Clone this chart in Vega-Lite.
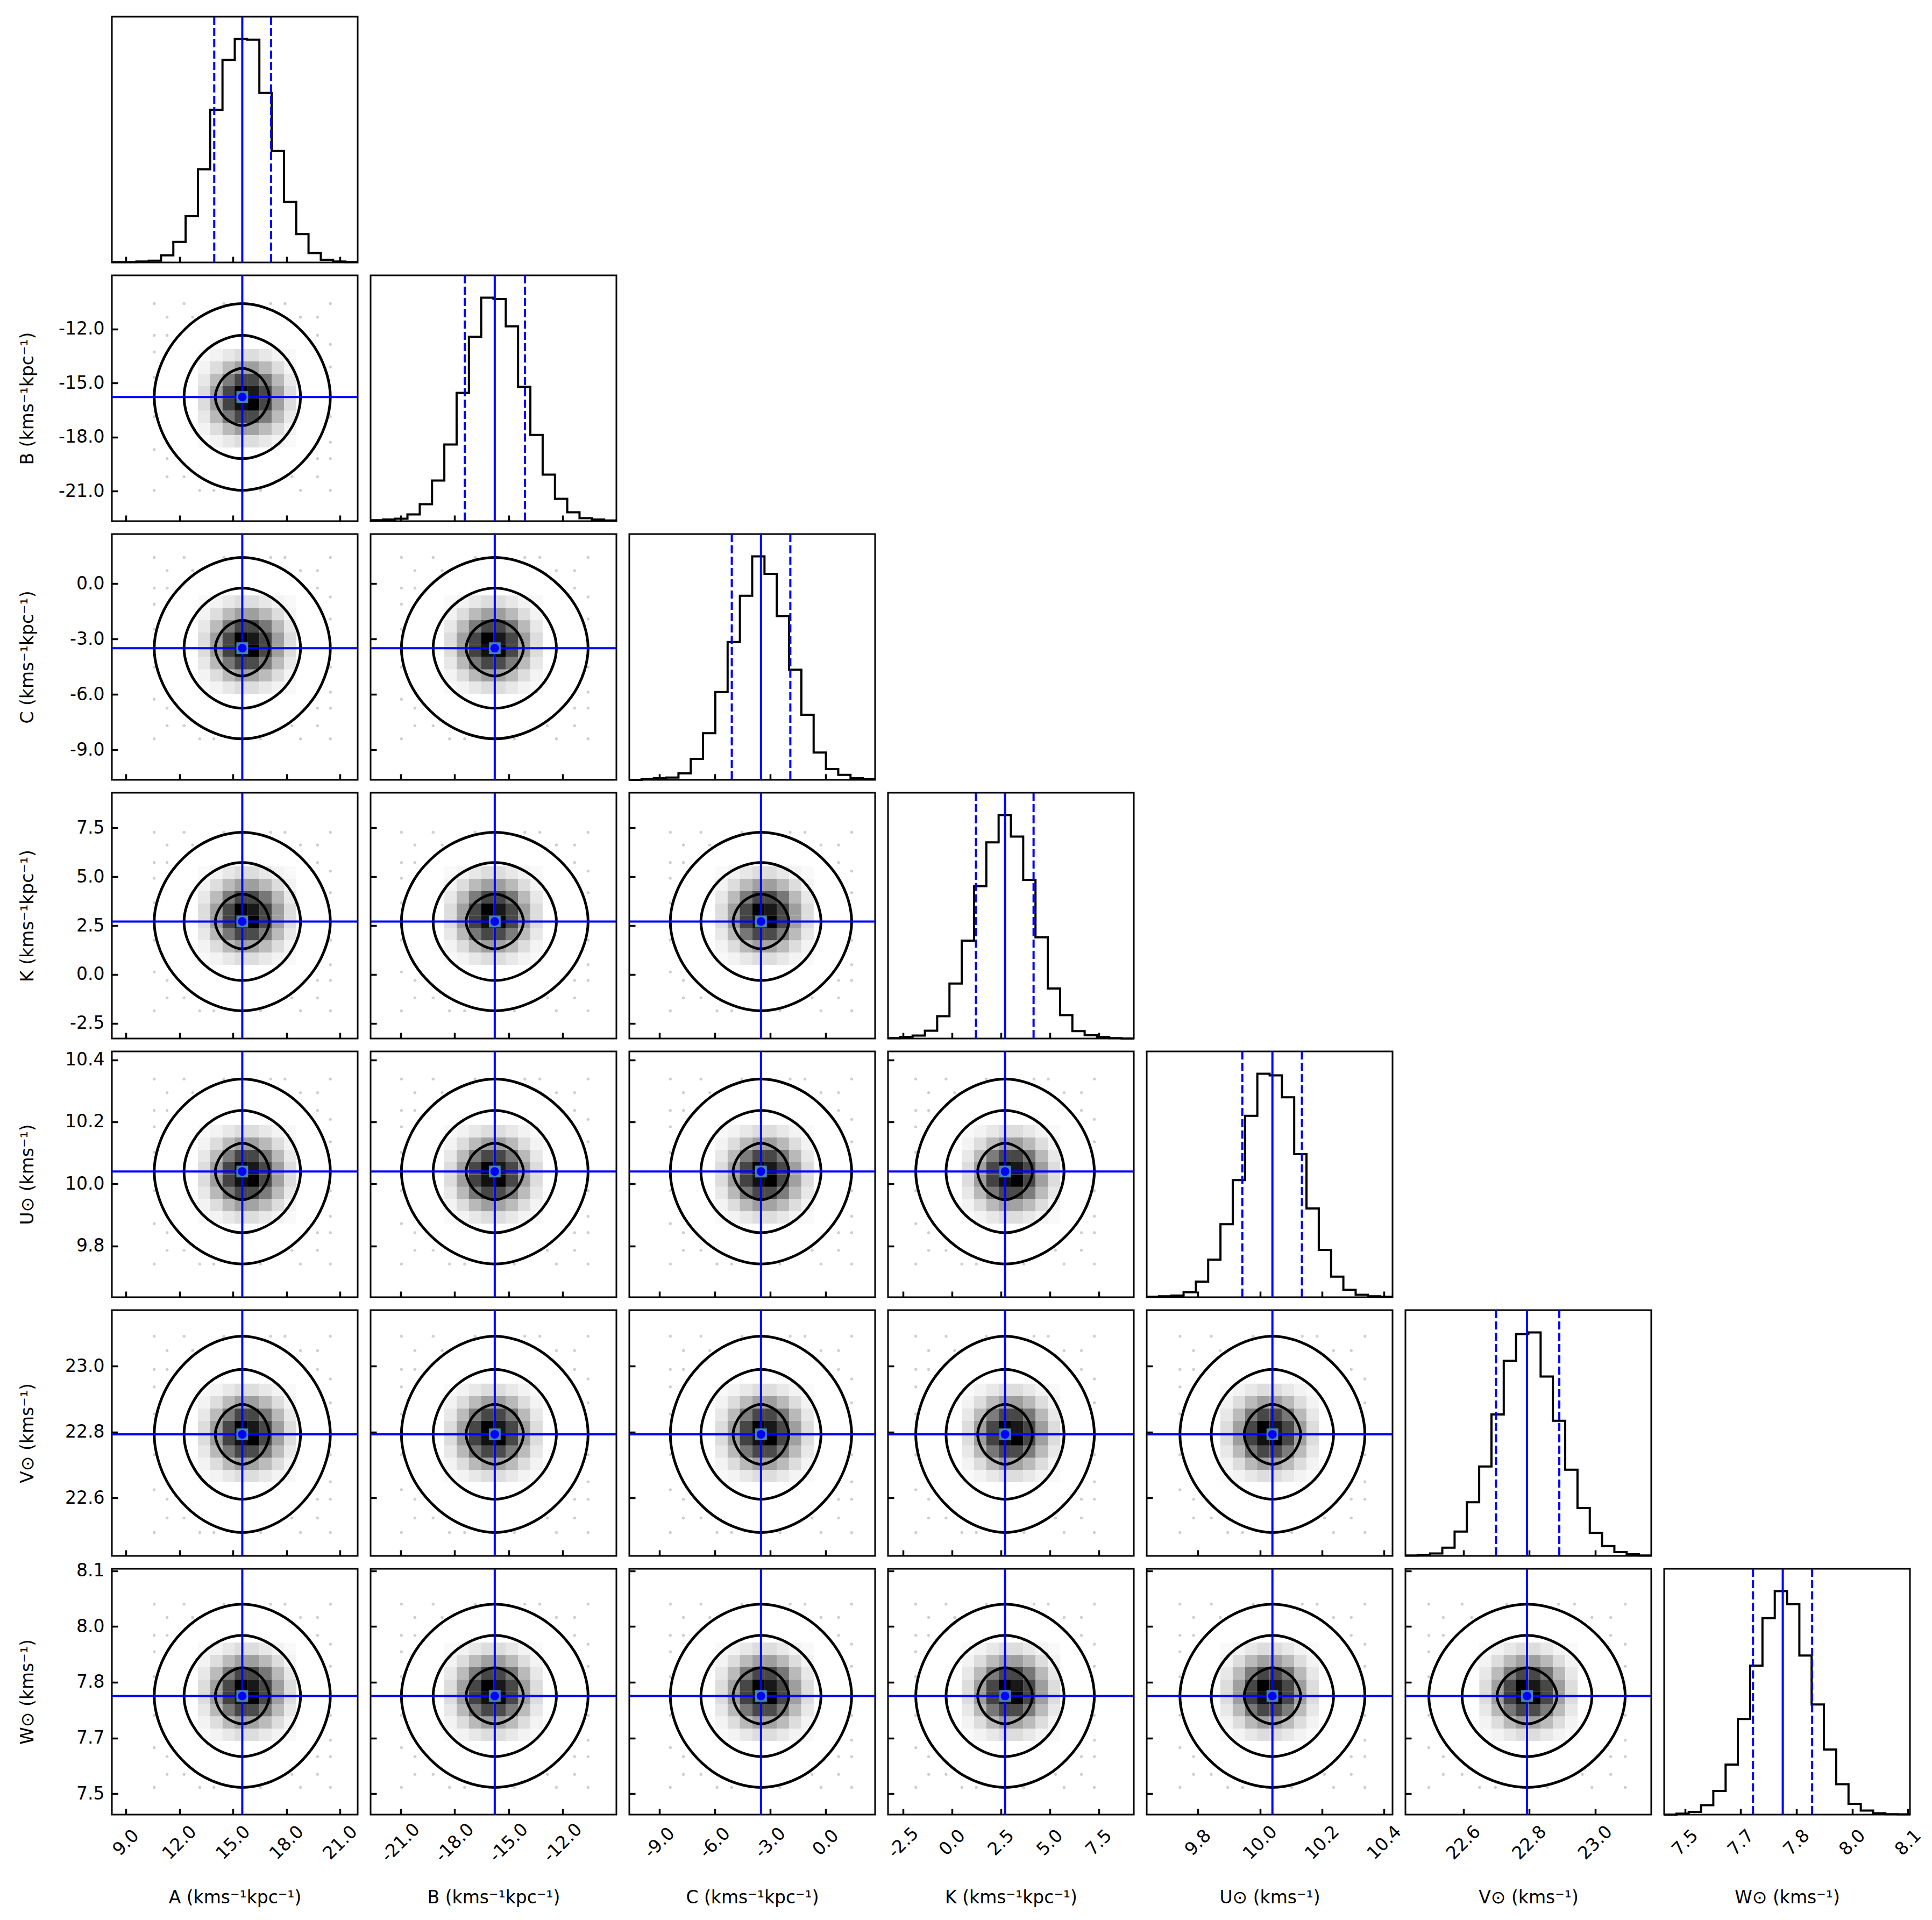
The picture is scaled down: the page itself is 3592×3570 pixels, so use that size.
{
"$schema":"https://vega.github.io/schema/vega-lite/v6.json",
"usermeta":{"embedOptions":{"actions":false}},
"background":"white",
"padding":{"left":33,"top":27,"right":10,"bottom":10},
"autosize":{"type":"pad"},
"bounds":"flush",
"spacing":24,
"columns":7,
"resolve":{"scale":{"x":"independent","y":"independent"}},
"config":{
"view":{"stroke":"black","strokeWidth":3},
"axis":{"domain":false,"grid":false,"offset":-11,"tickSize":11,"tickWidth":3.5,"tickColor":"black","labelFont":"DejaVu Sans","labelFontSize":33,"labelColor":"black","labelFlush":false,"labelOverlap":false,"titleFont":"DejaVu Sans","titleFontSize":33,"titleFontWeight":"normal","titleColor":"black","titleAlign":"center","titleBaseline":"middle"},
"axisBottom":{"labelAngle":-45,"labelAlign":"center","labelBaseline":"middle","labelPadding":52},
"axisLeft":{"labelAlign":"right","labelBaseline":"middle","labelPadding":14,"titleAngle":-90},
"line":{"color":"black","strokeWidth":5},
"rule":{"color":"#0000ff","strokeWidth":4},
"square":{"opacity":1,"size":530,"strokeWidth":0},
"circle":{"opacity":1,"size":260,"color":"#0000ff"}
},
"datasets":{
"med":[{"A":15.52,"B":-15.77,"C":-3.5,"K":2.71,"U":10.04,"V":22.793,"W":7.813}],
"q":[{"A":13.95,"B":-17.43,"C":-5.08,"K":1.22,"U":9.943,"V":22.699,"W":7.733},{"A":17.13,"B":-14.09,"C":-1.91,"K":4.17,"U":10.135,"V":22.891,"W":7.892}],
"hist":[
{"eA":8.22,"eB":-22.66,"eC":-10.63,"eK":-3.28,"eU":9.635,"eV":22.424,"eW":7.494,"nA":2,"nB":4,"nC":0,"nK":2,"nU":2,"nV":2,"nW":0},
{"eA":8.908,"eB":-21.978,"eC":-9.965,"eK":-2.651,"eU":9.6746,"eV":22.4613,"eW":7.5271,"nA":2,"nB":7,"nC":3,"nK":7,"nU":4,"nV":4,"nW":4},
{"eA":9.596,"eB":-21.296,"eC":-9.299,"eK":-2.022,"eU":9.7142,"eV":22.4986,"eW":7.5601,"nA":4,"nB":11,"nC":7,"nK":13,"nU":7,"nV":11,"nW":12},
{"eA":10.284,"eB":-20.614,"eC":-8.634,"eK":-1.393,"eU":9.7538,"eV":22.5359,"eW":7.5932,"nA":8,"nB":30,"nC":10,"nK":35,"nU":22,"nV":37,"nW":42},
{"eA":10.972,"eB":-19.932,"eC":-7.968,"eK":-0.764,"eU":9.7934,"eV":22.5732,"eW":7.6262,"nA":32,"nB":76,"nC":29,"nK":100,"nU":70,"nV":109,"nW":106},
{"eA":11.66,"eB":-19.25,"eC":-7.303,"eK":-0.135,"eU":9.833,"eV":22.6105,"eW":7.6593,"nA":92,"nB":182,"nC":94,"nK":246,"nU":168,"nV":240,"nW":224},
{"eA":12.348,"eB":-18.568,"eC":-6.637,"eK":0.494,"eU":9.8726,"eV":22.6478,"eW":7.6923,"nA":207,"nB":343,"nC":209,"nK":438,"nU":327,"nV":400,"nW":428},
{"eA":13.036,"eB":-17.886,"eC":-5.972,"eK":1.123,"eU":9.9122,"eV":22.6851,"eW":7.7254,"nA":417,"nB":574,"nC":393,"nK":682,"nU":524,"nV":633,"nW":667},
{"eA":13.724,"eB":-17.204,"eC":-5.306,"eK":1.752,"eU":9.9518,"eV":22.7224,"eW":7.7584,"nA":683,"nB":825,"nC":617,"nK":878,"nU":812,"nV":873,"nW":879},
{"eA":14.412,"eB":-16.522,"eC":-4.641,"eK":2.381,"eU":9.9914,"eV":22.7597,"eW":7.7915,"nA":906,"nB":1000,"nC":824,"nK":1000,"nU":1000,"nV":993,"nW":1000},
{"eA":15.1,"eB":-15.84,"eC":-3.975,"eK":3.01,"eU":10.031,"eV":22.797,"eW":7.8245,"nA":1000,"nB":994,"nC":1000,"nK":904,"nU":993,"nV":1000,"nW":942},
{"eA":15.788,"eB":-15.158,"eC":-3.31,"eK":3.639,"eU":10.0706,"eV":22.8343,"eW":7.8576,"nA":997,"nB":872,"nC":922,"nK":710,"nU":895,"nV":803,"nW":712},
{"eA":16.476,"eB":-14.476,"eC":-2.644,"eK":4.268,"eU":10.1102,"eV":22.8716,"eW":7.8906,"nA":759,"nB":601,"nC":733,"nK":453,"nU":640,"nV":605,"nW":493},
{"eA":17.164,"eB":-13.794,"eC":-1.979,"eK":4.897,"eU":10.1498,"eV":22.9089,"eW":7.9237,"nA":499,"nB":386,"nC":493,"nK":224,"nU":397,"nV":386,"nW":291},
{"eA":17.852,"eB":-13.112,"eC":-1.313,"eK":5.526,"eU":10.1894,"eV":22.9462,"eW":7.9567,"nA":271,"nB":208,"nC":291,"nK":105,"nU":212,"nV":214,"nW":136},
{"eA":18.54,"eB":-12.43,"eC":-0.648,"eK":6.155,"eU":10.229,"eV":22.9835,"eW":7.9898,"nA":127,"nB":100,"nC":122,"nK":33,"nU":92,"nV":103,"nW":48},
{"eA":19.228,"eB":-11.748,"eC":0.018,"eK":6.784,"eU":10.2686,"eV":23.0208,"eW":8.0228,"nA":42,"nB":40,"nC":48,"nK":15,"nU":33,"nV":44,"nW":18},
{"eA":19.916,"eB":-11.066,"eC":0.684,"eK":7.413,"eU":10.3082,"eV":23.0581,"eW":8.0559,"nA":12,"nB":13,"nC":22,"nK":7,"nU":11,"nV":17,"nW":6},
{"eA":20.604,"eB":-10.384,"eC":1.349,"eK":8.042,"eU":10.3478,"eV":23.0954,"eW":8.0889,"nA":4,"nB":7,"nC":7,"nK":2,"nU":4,"nV":7,"nW":2},
{"eA":21.292,"eB":-9.702,"eC":2.015,"eK":8.671,"eU":10.3874,"eV":23.1327,"eW":8.122,"nA":2,"nB":3,"nC":3,"nK":0,"nU":2,"nV":2,"nW":1},
{"eA":21.98,"eB":-9.02,"eC":2.68,"eK":9.3,"eU":10.427,"eV":23.17,"eW":8.155,"nA":2,"nB":3,"nC":3,"nK":0,"nU":2,"nV":2,"nW":1}
],
"sc":[{
"xA":[20.45,20.45,19.73,18.78,17.11,14.49,12.74,11.31,10.59,10.59,11.31,12.26,13.93,16.55,18.3,19.73,20.45,19.73,11.31,11.31,19.73,20.45,10.59,17.91,13.14,10.59,18.78,12.26,20.45,10.59,20.45,10.59,10.59,20.45],
"xB":[-10.59,-10.59,-11.34,-12.35,-14.1,-16.86,-18.69,-20.2,-20.95,-20.95,-20.2,-19.19,-17.44,-14.68,-12.85,-11.34,-10.59,-11.34,-20.2,-20.2,-11.34,-10.59,-20.95,-13.27,-18.28,-20.95,-12.35,-19.19,-10.59,-20.95,-10.59,-20.95,-20.95,-10.59],
"xC":[1.41,1.41,0.7,-0.25,-1.92,-4.53,-6.27,-7.7,-8.41,-8.41,-7.7,-6.75,-5.09,-2.47,-0.73,0.7,1.41,0.7,-7.7,-7.7,0.7,1.41,-8.41,-1.12,-5.88,-8.41,-0.25,-6.75,1.41,-8.41,1.41,-8.41,-8.41,1.41],
"xK":[7.28,7.28,6.62,5.73,4.19,1.75,0.13,-1.2,-1.86,-1.86,-1.2,-0.31,1.24,3.67,5.29,6.62,7.28,6.62,-1.2,-1.2,6.62,7.28,-1.86,4.92,0.5,-1.86,5.73,-0.31,7.28,-1.86,7.28,-1.86,-1.86,7.28],
"xU":[10.338,10.338,10.294,10.237,10.136,9.978,9.872,9.786,9.742,9.742,9.786,9.843,9.944,10.102,10.208,10.294,10.338,10.294,9.786,9.786,10.294,10.338,9.742,10.184,9.896,9.742,10.237,9.843,10.338,9.742,10.338,9.742,9.742,10.338],
"xV":[23.091,23.091,23.047,22.99,22.889,22.731,22.625,22.539,22.495,22.495,22.539,22.596,22.697,22.855,22.961,23.047,23.091,23.047,22.539,22.539,23.047,23.091,22.495,22.937,22.649,22.495,22.99,22.596,23.091,22.495,23.091,22.495,22.495,23.091],
"yB":[-14.1,-18.28,-12.35,-11.34,-10.59,-10.59,-11.34,-12.35,-13.27,-16.86,-19.19,-20.2,-20.95,-20.95,-20.2,-19.19,-16.86,-11.34,-11.34,-20.2,-20.2,-12.85,-18.69,-10.59,-20.95,-14.68,-20.95,-10.59,-19.19,-12.35,-10.59,-10.59,-20.95,-20.95],
"yC":[-1.92,-5.88,-0.25,0.7,1.41,1.41,0.7,-0.25,-1.12,-4.53,-6.75,-7.7,-8.41,-8.41,-7.7,-6.75,-4.53,0.7,0.7,-7.7,-7.7,-0.73,-6.27,1.41,-8.41,-2.47,-8.41,1.41,-6.75,-0.25,1.41,1.41,-8.41,-8.41],
"yK":[4.19,0.5,5.73,6.62,7.28,7.28,6.62,5.73,4.92,1.75,-0.31,-1.2,-1.86,-1.86,-1.2,-0.31,1.75,6.62,6.62,-1.2,-1.2,5.29,0.13,7.28,-1.86,3.67,-1.86,7.28,-0.31,5.73,7.28,7.28,-1.86,-1.86],
"yU":[10.136,9.896,10.237,10.294,10.338,10.338,10.294,10.237,10.184,9.978,9.843,9.786,9.742,9.742,9.786,9.843,9.978,10.294,10.294,9.786,9.786,10.208,9.872,10.338,9.742,10.102,9.742,10.338,9.843,10.237,10.338,10.338,9.742,9.742],
"yV":[22.889,22.649,22.99,23.047,23.091,23.091,23.047,22.99,22.937,22.731,22.596,22.539,22.495,22.495,22.539,22.596,22.731,23.047,23.047,22.539,22.539,22.961,22.625,23.091,22.495,22.855,22.495,23.091,22.596,22.99,23.091,23.091,22.495,22.495],
"yW":[7.893,7.694,7.976,8.024,8.06,8.06,8.024,7.976,7.932,7.761,7.65,7.602,7.567,7.567,7.602,7.65,7.761,8.024,8.024,7.602,7.602,7.952,7.674,8.06,7.567,7.865,7.567,8.06,7.65,7.976,8.06,8.06,7.567,7.567]}],
"ct":[
{"c":3,"o":[0,1,2,3,4,5,6,7,8,9,10,11],
"xA":[20.45,19.73,17.91,15.52,13.14,11.31,10.59,11.31,13.14,15.52,17.91,19.73],
"xB":[-10.59,-11.34,-13.27,-15.77,-18.28,-20.2,-20.95,-20.2,-18.28,-15.77,-13.27,-11.34],
"xC":[1.41,0.7,-1.12,-3.5,-5.88,-7.7,-8.41,-7.7,-5.88,-3.5,-1.12,0.7],
"xK":[7.28,6.62,4.92,2.71,0.5,-1.2,-1.86,-1.2,0.5,2.71,4.92,6.62],
"xU":[10.338,10.294,10.184,10.04,9.896,9.786,9.742,9.786,9.896,10.04,10.184,10.294],
"xV":[23.091,23.047,22.937,22.793,22.649,22.539,22.495,22.539,22.649,22.793,22.937,23.047],
"yB":[-15.77,-13.27,-11.34,-10.59,-11.34,-13.27,-15.77,-18.28,-20.2,-20.95,-20.2,-18.28],
"yC":[-3.5,-1.12,0.7,1.41,0.7,-1.12,-3.5,-5.88,-7.7,-8.41,-7.7,-5.88],
"yK":[2.71,4.92,6.62,7.28,6.62,4.92,2.71,0.5,-1.2,-1.86,-1.2,0.5],
"yU":[10.04,10.184,10.294,10.338,10.294,10.184,10.04,9.896,9.786,9.742,9.786,9.896],
"yV":[22.793,22.937,23.047,23.091,23.047,22.937,22.793,22.649,22.539,22.495,22.539,22.649],
"yW":[7.813,7.932,8.024,8.06,8.024,7.932,7.813,7.694,7.602,7.567,7.602,7.694]},
{"c":2,"o":[0,1,2,3,4,5,6,7,8,9,10,11],
"xA":[18.78,18.3,17.11,15.52,13.93,12.74,12.26,12.74,13.93,15.52,17.11,18.3],
"xB":[-12.35,-12.85,-14.1,-15.77,-17.44,-18.69,-19.19,-18.69,-17.44,-15.77,-14.1,-12.85],
"xC":[-0.25,-0.73,-1.92,-3.5,-5.09,-6.27,-6.75,-6.27,-5.09,-3.5,-1.92,-0.73],
"xK":[5.73,5.29,4.19,2.71,1.24,0.13,-0.31,0.13,1.24,2.71,4.19,5.29],
"xU":[10.237,10.208,10.136,10.04,9.944,9.872,9.843,9.872,9.944,10.04,10.136,10.208],
"xV":[22.99,22.961,22.889,22.793,22.697,22.625,22.596,22.625,22.697,22.793,22.889,22.961],
"yB":[-15.77,-14.1,-12.85,-12.35,-12.85,-14.1,-15.77,-17.44,-18.69,-19.19,-18.69,-17.44],
"yC":[-3.5,-1.92,-0.73,-0.25,-0.73,-1.92,-3.5,-5.09,-6.27,-6.75,-6.27,-5.09],
"yK":[2.71,4.19,5.29,5.73,5.29,4.19,2.71,1.24,0.13,-0.31,0.13,1.24],
"yU":[10.04,10.136,10.208,10.237,10.208,10.136,10.04,9.944,9.872,9.843,9.872,9.944],
"yV":[22.793,22.889,22.961,22.99,22.961,22.889,22.793,22.697,22.625,22.596,22.625,22.697],
"yW":[7.813,7.893,7.952,7.976,7.952,7.893,7.813,7.734,7.674,7.65,7.674,7.734]},
{"c":1,"o":[0,1,2,3,4,5,6,7],
"xA":[17.03,16.55,15.52,14.49,14.01,14.49,15.52,16.55],
"xB":[-14.18,-14.68,-15.77,-16.86,-17.36,-16.86,-15.77,-14.68],
"xC":[-1.99,-2.47,-3.5,-4.53,-5.01,-4.53,-3.5,-2.47],
"xK":[4.11,3.67,2.71,1.75,1.31,1.75,2.71,3.67],
"xU":[10.131,10.102,10.04,9.978,9.949,9.978,10.04,10.102],
"xV":[22.884,22.855,22.793,22.731,22.702,22.731,22.793,22.855],
"yB":[-15.77,-14.68,-14.18,-14.68,-15.77,-16.86,-17.36,-16.86],
"yC":[-3.5,-2.47,-1.99,-2.47,-3.5,-4.53,-5.01,-4.53],
"yK":[2.71,3.67,4.11,3.67,2.71,1.75,1.31,1.75],
"yU":[10.04,10.102,10.131,10.102,10.04,9.978,9.949,9.978],
"yV":[22.793,22.855,22.884,22.855,22.793,22.731,22.702,22.731],
"yW":[7.813,7.865,7.889,7.865,7.813,7.761,7.738,7.761]}
],
"hm":[
{"yB":-18.23,"yC":-5.64,"yK":0.81,"yU":9.892,"yV":22.667,"yW":7.709,"v":[0.02,0.04,0.08,0.12,0.12,0.08,0.04,0.02],"xA":[13.38,14.07,14.76,15.44,16.13,16.82,17.51,18.2],"xB":[-18.23,-17.54,-16.86,-16.18,-15.5,-14.82,-14.14,-13.45],"xC":[-5.64,-4.97,-4.31,-3.64,-2.98,-2.31,-1.65,-0.98],"xK":[0.81,1.44,2.07,2.7,3.33,3.96,4.59,5.22],"xU":[9.892,9.932,9.972,10.011,10.051,10.091,10.13,10.17],"xV":[22.667,22.704,22.741,22.778,22.816,22.853,22.89,22.928]},
{"yB":-17.54,"yC":-4.97,"yK":1.44,"yU":9.932,"yV":22.704,"yW":7.742,"v":[0.04,0.12,0.25,0.35,0.33,0.24,0.12,0.04],"xA":[13.38,14.07,14.76,15.44,16.13,16.82,17.51,18.2],"xB":[-18.23,-17.54,-16.86,-16.18,-15.5,-14.82,-14.14,-13.45],"xC":[-5.64,-4.97,-4.31,-3.64,-2.98,-2.31,-1.65,-0.98],"xK":[0.81,1.44,2.07,2.7,3.33,3.96,4.59,5.22],"xU":[9.892,9.932,9.972,10.011,10.051,10.091,10.13,10.17],"xV":[22.667,22.704,22.741,22.778,22.816,22.853,22.89,22.928]},
{"yB":-16.86,"yC":-4.31,"yK":2.07,"yU":9.972,"yV":22.741,"yW":7.775,"v":[0.08,0.25,0.5,0.7,0.68,0.48,0.24,0.08],"xA":[13.38,14.07,14.76,15.44,16.13,16.82,17.51,18.2],"xB":[-18.23,-17.54,-16.86,-16.18,-15.5,-14.82,-14.14,-13.45],"xC":[-5.64,-4.97,-4.31,-3.64,-2.98,-2.31,-1.65,-0.98],"xK":[0.81,1.44,2.07,2.7,3.33,3.96,4.59,5.22],"xU":[9.892,9.932,9.972,10.011,10.051,10.091,10.13,10.17],"xV":[22.667,22.704,22.741,22.778,22.816,22.853,22.89,22.928]},
{"yB":-16.18,"yC":-3.64,"yK":2.7,"yU":10.011,"yV":22.778,"yW":7.808,"v":[0.12,0.35,0.72,0.95,1,0.7,0.34,0.12],"xA":[13.38,14.07,14.76,15.44,16.13,16.82,17.51,18.2],"xB":[-18.23,-17.54,-16.86,-16.18,-15.5,-14.82,-14.14,-13.45],"xC":[-5.64,-4.97,-4.31,-3.64,-2.98,-2.31,-1.65,-0.98],"xK":[0.81,1.44,2.07,2.7,3.33,3.96,4.59,5.22],"xU":[9.892,9.932,9.972,10.011,10.051,10.091,10.13,10.17],"xV":[22.667,22.704,22.741,22.778,22.816,22.853,22.89,22.928]},
{"yB":-15.5,"yC":-2.98,"yK":3.33,"yU":10.051,"yV":22.816,"yW":7.841,"v":[0.12,0.34,0.7,1,0.92,0.7,0.35,0.12],"xA":[13.38,14.07,14.76,15.44,16.13,16.82,17.51,18.2],"xB":[-18.23,-17.54,-16.86,-16.18,-15.5,-14.82,-14.14,-13.45],"xC":[-5.64,-4.97,-4.31,-3.64,-2.98,-2.31,-1.65,-0.98],"xK":[0.81,1.44,2.07,2.7,3.33,3.96,4.59,5.22],"xU":[9.892,9.932,9.972,10.011,10.051,10.091,10.13,10.17],"xV":[22.667,22.704,22.741,22.778,22.816,22.853,22.89,22.928]},
{"yB":-14.82,"yC":-2.31,"yK":3.96,"yU":10.091,"yV":22.853,"yW":7.874,"v":[0.08,0.24,0.48,0.7,0.7,0.5,0.25,0.08],"xA":[13.38,14.07,14.76,15.44,16.13,16.82,17.51,18.2],"xB":[-18.23,-17.54,-16.86,-16.18,-15.5,-14.82,-14.14,-13.45],"xC":[-5.64,-4.97,-4.31,-3.64,-2.98,-2.31,-1.65,-0.98],"xK":[0.81,1.44,2.07,2.7,3.33,3.96,4.59,5.22],"xU":[9.892,9.932,9.972,10.011,10.051,10.091,10.13,10.17],"xV":[22.667,22.704,22.741,22.778,22.816,22.853,22.89,22.928]},
{"yB":-14.14,"yC":-1.65,"yK":4.59,"yU":10.13,"yV":22.89,"yW":7.907,"v":[0.04,0.12,0.24,0.34,0.35,0.25,0.12,0.04],"xA":[13.38,14.07,14.76,15.44,16.13,16.82,17.51,18.2],"xB":[-18.23,-17.54,-16.86,-16.18,-15.5,-14.82,-14.14,-13.45],"xC":[-5.64,-4.97,-4.31,-3.64,-2.98,-2.31,-1.65,-0.98],"xK":[0.81,1.44,2.07,2.7,3.33,3.96,4.59,5.22],"xU":[9.892,9.932,9.972,10.011,10.051,10.091,10.13,10.17],"xV":[22.667,22.704,22.741,22.778,22.816,22.853,22.89,22.928]},
{"yB":-13.45,"yC":-0.98,"yK":5.22,"yU":10.17,"yV":22.928,"yW":7.94,"v":[0.02,0.04,0.08,0.12,0.12,0.08,0.04,0.02],"xA":[13.38,14.07,14.76,15.44,16.13,16.82,17.51,18.2],"xB":[-18.23,-17.54,-16.86,-16.18,-15.5,-14.82,-14.14,-13.45],"xC":[-5.64,-4.97,-4.31,-3.64,-2.98,-2.31,-1.65,-0.98],"xK":[0.81,1.44,2.07,2.7,3.33,3.96,4.59,5.22],"xU":[9.892,9.932,9.972,10.011,10.051,10.091,10.13,10.17],"xV":[22.667,22.704,22.741,22.778,22.816,22.853,22.89,22.928]}
]
},
"concat":[
{"width":457,"height":457,"layer":[
{"data":{"name":"hist"},"mark":{"type":"line","interpolate":"step-after","strokeWidth":4},"encoding":{"x":{"field":"eA","type":"quantitative","scale":{"domain":[8.22,21.98],"nice":false},"axis":{"values":[9,12,15,18,21],"labels":false,"title":null}},"y":{"field":"nA","type":"quantitative","scale":{"domain":[0,1100],"nice":false},"axis":null}}},
{"data":{"name":"q"},"mark":{"type":"rule","strokeDash":[15,6]},"encoding":{"x":{"field":"A","type":"quantitative"}}},
{"data":{"name":"med"},"mark":"rule","encoding":{"x":{"field":"A","type":"quantitative"}}}]},
{"width":457,"height":457,"data":{"values":[]},"mark":"point","encoding":{},"view":{"stroke":null}},
{"width":457,"height":457,"data":{"values":[]},"mark":"point","encoding":{},"view":{"stroke":null}},
{"width":457,"height":457,"data":{"values":[]},"mark":"point","encoding":{},"view":{"stroke":null}},
{"width":457,"height":457,"data":{"values":[]},"mark":"point","encoding":{},"view":{"stroke":null}},
{"width":457,"height":457,"data":{"values":[]},"mark":"point","encoding":{},"view":{"stroke":null}},
{"width":457,"height":457,"data":{"values":[]},"mark":"point","encoding":{},"view":{"stroke":null}},

{"width":457,"height":457,"layer":[
{"data":{"name":"hm"},"transform":[{"flatten":["xA","v"]}],"mark":"square","encoding":{"x":{"field":"xA","type":"quantitative","scale":{"domain":[8.22,21.98],"nice":false},"axis":{"values":[9,12,15,18,21],"labels":false,"title":null}},"y":{"field":"yB","type":"quantitative","scale":{"domain":[-22.66,-9.02],"nice":false},"axis":{"values":[-21,-18,-15,-12],"format":".1f","labelExpr":"replace(datum.label,'−','-')","title":"B (kms⁻¹kpc⁻¹)","titleX":-168,"titleY":228.5}},"color":{"field":"v","type":"quantitative","scale":{"domain":[0,1],"range":["#ffffff","#000000"]},"legend":null}}},
{"data":{"name":"sc"},"transform":[{"flatten":["xA","yB"]}],"mark":{"type":"circle","size":30,"color":"#888888","opacity":0.4},"encoding":{"x":{"field":"xA","type":"quantitative"},"y":{"field":"yB","type":"quantitative"}}},
{"data":{"name":"ct"},"transform":[{"flatten":["o","xA","yB"]}],"mark":{"type":"line","interpolate":"cardinal-closed"},"encoding":{"x":{"field":"xA","type":"quantitative"},"y":{"field":"yB","type":"quantitative"},"detail":{"field":"c","type":"nominal"},"order":{"field":"o","type":"quantitative"}}},
{"data":{"name":"med"},"mark":"rule","encoding":{"x":{"field":"A","type":"quantitative"}}},
{"data":{"name":"med"},"mark":"rule","encoding":{"y":{"field":"B","type":"quantitative"}}},
{"data":{"name":"med"},"mark":{"type":"square","size":480,"color":"#4682b4"},"encoding":{"x":{"field":"A","type":"quantitative"},"y":{"field":"B","type":"quantitative"}}},
{"data":{"name":"med"},"mark":"circle","encoding":{"x":{"field":"A","type":"quantitative"},"y":{"field":"B","type":"quantitative"}}}]},
{"width":457,"height":457,"layer":[
{"data":{"name":"hist"},"mark":{"type":"line","interpolate":"step-after","strokeWidth":4},"encoding":{"x":{"field":"eB","type":"quantitative","scale":{"domain":[-22.66,-9.02],"nice":false},"axis":{"values":[-21,-18,-15,-12],"labels":false,"title":null}},"y":{"field":"nB","type":"quantitative","scale":{"domain":[0,1100],"nice":false},"axis":null}}},
{"data":{"name":"q"},"mark":{"type":"rule","strokeDash":[15,6]},"encoding":{"x":{"field":"B","type":"quantitative"}}},
{"data":{"name":"med"},"mark":"rule","encoding":{"x":{"field":"B","type":"quantitative"}}}]},
{"width":457,"height":457,"data":{"values":[]},"mark":"point","encoding":{},"view":{"stroke":null}},
{"width":457,"height":457,"data":{"values":[]},"mark":"point","encoding":{},"view":{"stroke":null}},
{"width":457,"height":457,"data":{"values":[]},"mark":"point","encoding":{},"view":{"stroke":null}},
{"width":457,"height":457,"data":{"values":[]},"mark":"point","encoding":{},"view":{"stroke":null}},
{"width":457,"height":457,"data":{"values":[]},"mark":"point","encoding":{},"view":{"stroke":null}},

{"width":457,"height":457,"layer":[
{"data":{"name":"hm"},"transform":[{"flatten":["xA","v"]}],"mark":"square","encoding":{"x":{"field":"xA","type":"quantitative","scale":{"domain":[8.22,21.98],"nice":false},"axis":{"values":[9,12,15,18,21],"labels":false,"title":null}},"y":{"field":"yC","type":"quantitative","scale":{"domain":[-10.63,2.68],"nice":false},"axis":{"values":[-9,-6,-3,0],"format":".1f","labelExpr":"replace(datum.label,'−','-')","title":"C (kms⁻¹kpc⁻¹)","titleX":-168,"titleY":228.5}},"color":{"field":"v","type":"quantitative","scale":{"domain":[0,1],"range":["#ffffff","#000000"]},"legend":null}}},
{"data":{"name":"sc"},"transform":[{"flatten":["xA","yC"]}],"mark":{"type":"circle","size":30,"color":"#888888","opacity":0.4},"encoding":{"x":{"field":"xA","type":"quantitative"},"y":{"field":"yC","type":"quantitative"}}},
{"data":{"name":"ct"},"transform":[{"flatten":["o","xA","yC"]}],"mark":{"type":"line","interpolate":"cardinal-closed"},"encoding":{"x":{"field":"xA","type":"quantitative"},"y":{"field":"yC","type":"quantitative"},"detail":{"field":"c","type":"nominal"},"order":{"field":"o","type":"quantitative"}}},
{"data":{"name":"med"},"mark":"rule","encoding":{"x":{"field":"A","type":"quantitative"}}},
{"data":{"name":"med"},"mark":"rule","encoding":{"y":{"field":"C","type":"quantitative"}}},
{"data":{"name":"med"},"mark":{"type":"square","size":480,"color":"#4682b4"},"encoding":{"x":{"field":"A","type":"quantitative"},"y":{"field":"C","type":"quantitative"}}},
{"data":{"name":"med"},"mark":"circle","encoding":{"x":{"field":"A","type":"quantitative"},"y":{"field":"C","type":"quantitative"}}}]},
{"width":457,"height":457,"layer":[
{"data":{"name":"hm"},"transform":[{"flatten":["xB","v"]}],"mark":"square","encoding":{"x":{"field":"xB","type":"quantitative","scale":{"domain":[-22.66,-9.02],"nice":false},"axis":{"values":[-21,-18,-15,-12],"labels":false,"title":null}},"y":{"field":"yC","type":"quantitative","scale":{"domain":[-10.63,2.68],"nice":false},"axis":{"values":[-9,-6,-3,0],"labels":false,"title":null}},"color":{"field":"v","type":"quantitative","scale":{"domain":[0,1],"range":["#ffffff","#000000"]},"legend":null}}},
{"data":{"name":"sc"},"transform":[{"flatten":["xB","yC"]}],"mark":{"type":"circle","size":30,"color":"#888888","opacity":0.4},"encoding":{"x":{"field":"xB","type":"quantitative"},"y":{"field":"yC","type":"quantitative"}}},
{"data":{"name":"ct"},"transform":[{"flatten":["o","xB","yC"]}],"mark":{"type":"line","interpolate":"cardinal-closed"},"encoding":{"x":{"field":"xB","type":"quantitative"},"y":{"field":"yC","type":"quantitative"},"detail":{"field":"c","type":"nominal"},"order":{"field":"o","type":"quantitative"}}},
{"data":{"name":"med"},"mark":"rule","encoding":{"x":{"field":"B","type":"quantitative"}}},
{"data":{"name":"med"},"mark":"rule","encoding":{"y":{"field":"C","type":"quantitative"}}},
{"data":{"name":"med"},"mark":{"type":"square","size":480,"color":"#4682b4"},"encoding":{"x":{"field":"B","type":"quantitative"},"y":{"field":"C","type":"quantitative"}}},
{"data":{"name":"med"},"mark":"circle","encoding":{"x":{"field":"B","type":"quantitative"},"y":{"field":"C","type":"quantitative"}}}]},
{"width":457,"height":457,"layer":[
{"data":{"name":"hist"},"mark":{"type":"line","interpolate":"step-after","strokeWidth":4},"encoding":{"x":{"field":"eC","type":"quantitative","scale":{"domain":[-10.63,2.68],"nice":false},"axis":{"values":[-9,-6,-3,0],"labels":false,"title":null}},"y":{"field":"nC","type":"quantitative","scale":{"domain":[0,1100],"nice":false},"axis":null}}},
{"data":{"name":"q"},"mark":{"type":"rule","strokeDash":[15,6]},"encoding":{"x":{"field":"C","type":"quantitative"}}},
{"data":{"name":"med"},"mark":"rule","encoding":{"x":{"field":"C","type":"quantitative"}}}]},
{"width":457,"height":457,"data":{"values":[]},"mark":"point","encoding":{},"view":{"stroke":null}},
{"width":457,"height":457,"data":{"values":[]},"mark":"point","encoding":{},"view":{"stroke":null}},
{"width":457,"height":457,"data":{"values":[]},"mark":"point","encoding":{},"view":{"stroke":null}},
{"width":457,"height":457,"data":{"values":[]},"mark":"point","encoding":{},"view":{"stroke":null}},

{"width":457,"height":457,"layer":[
{"data":{"name":"hm"},"transform":[{"flatten":["xA","v"]}],"mark":"square","encoding":{"x":{"field":"xA","type":"quantitative","scale":{"domain":[8.22,21.98],"nice":false},"axis":{"values":[9,12,15,18,21],"labels":false,"title":null}},"y":{"field":"yK","type":"quantitative","scale":{"domain":[-3.28,9.3],"nice":false},"axis":{"values":[-2.5,0,2.5,5,7.5],"format":".1f","labelExpr":"replace(datum.label,'−','-')","title":"K (kms⁻¹kpc⁻¹)","titleX":-168,"titleY":228.5}},"color":{"field":"v","type":"quantitative","scale":{"domain":[0,1],"range":["#ffffff","#000000"]},"legend":null}}},
{"data":{"name":"sc"},"transform":[{"flatten":["xA","yK"]}],"mark":{"type":"circle","size":30,"color":"#888888","opacity":0.4},"encoding":{"x":{"field":"xA","type":"quantitative"},"y":{"field":"yK","type":"quantitative"}}},
{"data":{"name":"ct"},"transform":[{"flatten":["o","xA","yK"]}],"mark":{"type":"line","interpolate":"cardinal-closed"},"encoding":{"x":{"field":"xA","type":"quantitative"},"y":{"field":"yK","type":"quantitative"},"detail":{"field":"c","type":"nominal"},"order":{"field":"o","type":"quantitative"}}},
{"data":{"name":"med"},"mark":"rule","encoding":{"x":{"field":"A","type":"quantitative"}}},
{"data":{"name":"med"},"mark":"rule","encoding":{"y":{"field":"K","type":"quantitative"}}},
{"data":{"name":"med"},"mark":{"type":"square","size":480,"color":"#4682b4"},"encoding":{"x":{"field":"A","type":"quantitative"},"y":{"field":"K","type":"quantitative"}}},
{"data":{"name":"med"},"mark":"circle","encoding":{"x":{"field":"A","type":"quantitative"},"y":{"field":"K","type":"quantitative"}}}]},
{"width":457,"height":457,"layer":[
{"data":{"name":"hm"},"transform":[{"flatten":["xB","v"]}],"mark":"square","encoding":{"x":{"field":"xB","type":"quantitative","scale":{"domain":[-22.66,-9.02],"nice":false},"axis":{"values":[-21,-18,-15,-12],"labels":false,"title":null}},"y":{"field":"yK","type":"quantitative","scale":{"domain":[-3.28,9.3],"nice":false},"axis":{"values":[-2.5,0,2.5,5,7.5],"labels":false,"title":null}},"color":{"field":"v","type":"quantitative","scale":{"domain":[0,1],"range":["#ffffff","#000000"]},"legend":null}}},
{"data":{"name":"sc"},"transform":[{"flatten":["xB","yK"]}],"mark":{"type":"circle","size":30,"color":"#888888","opacity":0.4},"encoding":{"x":{"field":"xB","type":"quantitative"},"y":{"field":"yK","type":"quantitative"}}},
{"data":{"name":"ct"},"transform":[{"flatten":["o","xB","yK"]}],"mark":{"type":"line","interpolate":"cardinal-closed"},"encoding":{"x":{"field":"xB","type":"quantitative"},"y":{"field":"yK","type":"quantitative"},"detail":{"field":"c","type":"nominal"},"order":{"field":"o","type":"quantitative"}}},
{"data":{"name":"med"},"mark":"rule","encoding":{"x":{"field":"B","type":"quantitative"}}},
{"data":{"name":"med"},"mark":"rule","encoding":{"y":{"field":"K","type":"quantitative"}}},
{"data":{"name":"med"},"mark":{"type":"square","size":480,"color":"#4682b4"},"encoding":{"x":{"field":"B","type":"quantitative"},"y":{"field":"K","type":"quantitative"}}},
{"data":{"name":"med"},"mark":"circle","encoding":{"x":{"field":"B","type":"quantitative"},"y":{"field":"K","type":"quantitative"}}}]},
{"width":457,"height":457,"layer":[
{"data":{"name":"hm"},"transform":[{"flatten":["xC","v"]}],"mark":"square","encoding":{"x":{"field":"xC","type":"quantitative","scale":{"domain":[-10.63,2.68],"nice":false},"axis":{"values":[-9,-6,-3,0],"labels":false,"title":null}},"y":{"field":"yK","type":"quantitative","scale":{"domain":[-3.28,9.3],"nice":false},"axis":{"values":[-2.5,0,2.5,5,7.5],"labels":false,"title":null}},"color":{"field":"v","type":"quantitative","scale":{"domain":[0,1],"range":["#ffffff","#000000"]},"legend":null}}},
{"data":{"name":"sc"},"transform":[{"flatten":["xC","yK"]}],"mark":{"type":"circle","size":30,"color":"#888888","opacity":0.4},"encoding":{"x":{"field":"xC","type":"quantitative"},"y":{"field":"yK","type":"quantitative"}}},
{"data":{"name":"ct"},"transform":[{"flatten":["o","xC","yK"]}],"mark":{"type":"line","interpolate":"cardinal-closed"},"encoding":{"x":{"field":"xC","type":"quantitative"},"y":{"field":"yK","type":"quantitative"},"detail":{"field":"c","type":"nominal"},"order":{"field":"o","type":"quantitative"}}},
{"data":{"name":"med"},"mark":"rule","encoding":{"x":{"field":"C","type":"quantitative"}}},
{"data":{"name":"med"},"mark":"rule","encoding":{"y":{"field":"K","type":"quantitative"}}},
{"data":{"name":"med"},"mark":{"type":"square","size":480,"color":"#4682b4"},"encoding":{"x":{"field":"C","type":"quantitative"},"y":{"field":"K","type":"quantitative"}}},
{"data":{"name":"med"},"mark":"circle","encoding":{"x":{"field":"C","type":"quantitative"},"y":{"field":"K","type":"quantitative"}}}]},
{"width":457,"height":457,"layer":[
{"data":{"name":"hist"},"mark":{"type":"line","interpolate":"step-after","strokeWidth":4},"encoding":{"x":{"field":"eK","type":"quantitative","scale":{"domain":[-3.28,9.3],"nice":false},"axis":{"values":[-2.5,0,2.5,5,7.5],"labels":false,"title":null}},"y":{"field":"nK","type":"quantitative","scale":{"domain":[0,1100],"nice":false},"axis":null}}},
{"data":{"name":"q"},"mark":{"type":"rule","strokeDash":[15,6]},"encoding":{"x":{"field":"K","type":"quantitative"}}},
{"data":{"name":"med"},"mark":"rule","encoding":{"x":{"field":"K","type":"quantitative"}}}]},
{"width":457,"height":457,"data":{"values":[]},"mark":"point","encoding":{},"view":{"stroke":null}},
{"width":457,"height":457,"data":{"values":[]},"mark":"point","encoding":{},"view":{"stroke":null}},
{"width":457,"height":457,"data":{"values":[]},"mark":"point","encoding":{},"view":{"stroke":null}},

{"width":457,"height":457,"layer":[
{"data":{"name":"hm"},"transform":[{"flatten":["xA","v"]}],"mark":"square","encoding":{"x":{"field":"xA","type":"quantitative","scale":{"domain":[8.22,21.98],"nice":false},"axis":{"values":[9,12,15,18,21],"labels":false,"title":null}},"y":{"field":"yU","type":"quantitative","scale":{"domain":[9.635,10.427],"nice":false},"axis":{"values":[9.8,10,10.2,10.4],"format":".1f","title":"U⊙ (kms⁻¹)","titleX":-168,"titleY":228.5}},"color":{"field":"v","type":"quantitative","scale":{"domain":[0,1],"range":["#ffffff","#000000"]},"legend":null}}},
{"data":{"name":"sc"},"transform":[{"flatten":["xA","yU"]}],"mark":{"type":"circle","size":30,"color":"#888888","opacity":0.4},"encoding":{"x":{"field":"xA","type":"quantitative"},"y":{"field":"yU","type":"quantitative"}}},
{"data":{"name":"ct"},"transform":[{"flatten":["o","xA","yU"]}],"mark":{"type":"line","interpolate":"cardinal-closed"},"encoding":{"x":{"field":"xA","type":"quantitative"},"y":{"field":"yU","type":"quantitative"},"detail":{"field":"c","type":"nominal"},"order":{"field":"o","type":"quantitative"}}},
{"data":{"name":"med"},"mark":"rule","encoding":{"x":{"field":"A","type":"quantitative"}}},
{"data":{"name":"med"},"mark":"rule","encoding":{"y":{"field":"U","type":"quantitative"}}},
{"data":{"name":"med"},"mark":{"type":"square","size":480,"color":"#4682b4"},"encoding":{"x":{"field":"A","type":"quantitative"},"y":{"field":"U","type":"quantitative"}}},
{"data":{"name":"med"},"mark":"circle","encoding":{"x":{"field":"A","type":"quantitative"},"y":{"field":"U","type":"quantitative"}}}]},
{"width":457,"height":457,"layer":[
{"data":{"name":"hm"},"transform":[{"flatten":["xB","v"]}],"mark":"square","encoding":{"x":{"field":"xB","type":"quantitative","scale":{"domain":[-22.66,-9.02],"nice":false},"axis":{"values":[-21,-18,-15,-12],"labels":false,"title":null}},"y":{"field":"yU","type":"quantitative","scale":{"domain":[9.635,10.427],"nice":false},"axis":{"values":[9.8,10,10.2,10.4],"labels":false,"title":null}},"color":{"field":"v","type":"quantitative","scale":{"domain":[0,1],"range":["#ffffff","#000000"]},"legend":null}}},
{"data":{"name":"sc"},"transform":[{"flatten":["xB","yU"]}],"mark":{"type":"circle","size":30,"color":"#888888","opacity":0.4},"encoding":{"x":{"field":"xB","type":"quantitative"},"y":{"field":"yU","type":"quantitative"}}},
{"data":{"name":"ct"},"transform":[{"flatten":["o","xB","yU"]}],"mark":{"type":"line","interpolate":"cardinal-closed"},"encoding":{"x":{"field":"xB","type":"quantitative"},"y":{"field":"yU","type":"quantitative"},"detail":{"field":"c","type":"nominal"},"order":{"field":"o","type":"quantitative"}}},
{"data":{"name":"med"},"mark":"rule","encoding":{"x":{"field":"B","type":"quantitative"}}},
{"data":{"name":"med"},"mark":"rule","encoding":{"y":{"field":"U","type":"quantitative"}}},
{"data":{"name":"med"},"mark":{"type":"square","size":480,"color":"#4682b4"},"encoding":{"x":{"field":"B","type":"quantitative"},"y":{"field":"U","type":"quantitative"}}},
{"data":{"name":"med"},"mark":"circle","encoding":{"x":{"field":"B","type":"quantitative"},"y":{"field":"U","type":"quantitative"}}}]},
{"width":457,"height":457,"layer":[
{"data":{"name":"hm"},"transform":[{"flatten":["xC","v"]}],"mark":"square","encoding":{"x":{"field":"xC","type":"quantitative","scale":{"domain":[-10.63,2.68],"nice":false},"axis":{"values":[-9,-6,-3,0],"labels":false,"title":null}},"y":{"field":"yU","type":"quantitative","scale":{"domain":[9.635,10.427],"nice":false},"axis":{"values":[9.8,10,10.2,10.4],"labels":false,"title":null}},"color":{"field":"v","type":"quantitative","scale":{"domain":[0,1],"range":["#ffffff","#000000"]},"legend":null}}},
{"data":{"name":"sc"},"transform":[{"flatten":["xC","yU"]}],"mark":{"type":"circle","size":30,"color":"#888888","opacity":0.4},"encoding":{"x":{"field":"xC","type":"quantitative"},"y":{"field":"yU","type":"quantitative"}}},
{"data":{"name":"ct"},"transform":[{"flatten":["o","xC","yU"]}],"mark":{"type":"line","interpolate":"cardinal-closed"},"encoding":{"x":{"field":"xC","type":"quantitative"},"y":{"field":"yU","type":"quantitative"},"detail":{"field":"c","type":"nominal"},"order":{"field":"o","type":"quantitative"}}},
{"data":{"name":"med"},"mark":"rule","encoding":{"x":{"field":"C","type":"quantitative"}}},
{"data":{"name":"med"},"mark":"rule","encoding":{"y":{"field":"U","type":"quantitative"}}},
{"data":{"name":"med"},"mark":{"type":"square","size":480,"color":"#4682b4"},"encoding":{"x":{"field":"C","type":"quantitative"},"y":{"field":"U","type":"quantitative"}}},
{"data":{"name":"med"},"mark":"circle","encoding":{"x":{"field":"C","type":"quantitative"},"y":{"field":"U","type":"quantitative"}}}]},
{"width":457,"height":457,"layer":[
{"data":{"name":"hm"},"transform":[{"flatten":["xK","v"]}],"mark":"square","encoding":{"x":{"field":"xK","type":"quantitative","scale":{"domain":[-3.28,9.3],"nice":false},"axis":{"values":[-2.5,0,2.5,5,7.5],"labels":false,"title":null}},"y":{"field":"yU","type":"quantitative","scale":{"domain":[9.635,10.427],"nice":false},"axis":{"values":[9.8,10,10.2,10.4],"labels":false,"title":null}},"color":{"field":"v","type":"quantitative","scale":{"domain":[0,1],"range":["#ffffff","#000000"]},"legend":null}}},
{"data":{"name":"sc"},"transform":[{"flatten":["xK","yU"]}],"mark":{"type":"circle","size":30,"color":"#888888","opacity":0.4},"encoding":{"x":{"field":"xK","type":"quantitative"},"y":{"field":"yU","type":"quantitative"}}},
{"data":{"name":"ct"},"transform":[{"flatten":["o","xK","yU"]}],"mark":{"type":"line","interpolate":"cardinal-closed"},"encoding":{"x":{"field":"xK","type":"quantitative"},"y":{"field":"yU","type":"quantitative"},"detail":{"field":"c","type":"nominal"},"order":{"field":"o","type":"quantitative"}}},
{"data":{"name":"med"},"mark":"rule","encoding":{"x":{"field":"K","type":"quantitative"}}},
{"data":{"name":"med"},"mark":"rule","encoding":{"y":{"field":"U","type":"quantitative"}}},
{"data":{"name":"med"},"mark":{"type":"square","size":480,"color":"#4682b4"},"encoding":{"x":{"field":"K","type":"quantitative"},"y":{"field":"U","type":"quantitative"}}},
{"data":{"name":"med"},"mark":"circle","encoding":{"x":{"field":"K","type":"quantitative"},"y":{"field":"U","type":"quantitative"}}}]},
{"width":457,"height":457,"layer":[
{"data":{"name":"hist"},"mark":{"type":"line","interpolate":"step-after","strokeWidth":4},"encoding":{"x":{"field":"eU","type":"quantitative","scale":{"domain":[9.635,10.427],"nice":false},"axis":{"values":[9.8,10,10.2,10.4],"labels":false,"title":null}},"y":{"field":"nU","type":"quantitative","scale":{"domain":[0,1100],"nice":false},"axis":null}}},
{"data":{"name":"q"},"mark":{"type":"rule","strokeDash":[15,6]},"encoding":{"x":{"field":"U","type":"quantitative"}}},
{"data":{"name":"med"},"mark":"rule","encoding":{"x":{"field":"U","type":"quantitative"}}}]},
{"width":457,"height":457,"data":{"values":[]},"mark":"point","encoding":{},"view":{"stroke":null}},
{"width":457,"height":457,"data":{"values":[]},"mark":"point","encoding":{},"view":{"stroke":null}},

{"width":457,"height":457,"layer":[
{"data":{"name":"hm"},"transform":[{"flatten":["xA","v"]}],"mark":"square","encoding":{"x":{"field":"xA","type":"quantitative","scale":{"domain":[8.22,21.98],"nice":false},"axis":{"values":[9,12,15,18,21],"labels":false,"title":null}},"y":{"field":"yV","type":"quantitative","scale":{"domain":[22.424,23.17],"nice":false},"axis":{"values":[22.6,22.8,23],"format":".1f","title":"V⊙ (kms⁻¹)","titleX":-168,"titleY":228.5}},"color":{"field":"v","type":"quantitative","scale":{"domain":[0,1],"range":["#ffffff","#000000"]},"legend":null}}},
{"data":{"name":"sc"},"transform":[{"flatten":["xA","yV"]}],"mark":{"type":"circle","size":30,"color":"#888888","opacity":0.4},"encoding":{"x":{"field":"xA","type":"quantitative"},"y":{"field":"yV","type":"quantitative"}}},
{"data":{"name":"ct"},"transform":[{"flatten":["o","xA","yV"]}],"mark":{"type":"line","interpolate":"cardinal-closed"},"encoding":{"x":{"field":"xA","type":"quantitative"},"y":{"field":"yV","type":"quantitative"},"detail":{"field":"c","type":"nominal"},"order":{"field":"o","type":"quantitative"}}},
{"data":{"name":"med"},"mark":"rule","encoding":{"x":{"field":"A","type":"quantitative"}}},
{"data":{"name":"med"},"mark":"rule","encoding":{"y":{"field":"V","type":"quantitative"}}},
{"data":{"name":"med"},"mark":{"type":"square","size":480,"color":"#4682b4"},"encoding":{"x":{"field":"A","type":"quantitative"},"y":{"field":"V","type":"quantitative"}}},
{"data":{"name":"med"},"mark":"circle","encoding":{"x":{"field":"A","type":"quantitative"},"y":{"field":"V","type":"quantitative"}}}]},
{"width":457,"height":457,"layer":[
{"data":{"name":"hm"},"transform":[{"flatten":["xB","v"]}],"mark":"square","encoding":{"x":{"field":"xB","type":"quantitative","scale":{"domain":[-22.66,-9.02],"nice":false},"axis":{"values":[-21,-18,-15,-12],"labels":false,"title":null}},"y":{"field":"yV","type":"quantitative","scale":{"domain":[22.424,23.17],"nice":false},"axis":{"values":[22.6,22.8,23],"labels":false,"title":null}},"color":{"field":"v","type":"quantitative","scale":{"domain":[0,1],"range":["#ffffff","#000000"]},"legend":null}}},
{"data":{"name":"sc"},"transform":[{"flatten":["xB","yV"]}],"mark":{"type":"circle","size":30,"color":"#888888","opacity":0.4},"encoding":{"x":{"field":"xB","type":"quantitative"},"y":{"field":"yV","type":"quantitative"}}},
{"data":{"name":"ct"},"transform":[{"flatten":["o","xB","yV"]}],"mark":{"type":"line","interpolate":"cardinal-closed"},"encoding":{"x":{"field":"xB","type":"quantitative"},"y":{"field":"yV","type":"quantitative"},"detail":{"field":"c","type":"nominal"},"order":{"field":"o","type":"quantitative"}}},
{"data":{"name":"med"},"mark":"rule","encoding":{"x":{"field":"B","type":"quantitative"}}},
{"data":{"name":"med"},"mark":"rule","encoding":{"y":{"field":"V","type":"quantitative"}}},
{"data":{"name":"med"},"mark":{"type":"square","size":480,"color":"#4682b4"},"encoding":{"x":{"field":"B","type":"quantitative"},"y":{"field":"V","type":"quantitative"}}},
{"data":{"name":"med"},"mark":"circle","encoding":{"x":{"field":"B","type":"quantitative"},"y":{"field":"V","type":"quantitative"}}}]},
{"width":457,"height":457,"layer":[
{"data":{"name":"hm"},"transform":[{"flatten":["xC","v"]}],"mark":"square","encoding":{"x":{"field":"xC","type":"quantitative","scale":{"domain":[-10.63,2.68],"nice":false},"axis":{"values":[-9,-6,-3,0],"labels":false,"title":null}},"y":{"field":"yV","type":"quantitative","scale":{"domain":[22.424,23.17],"nice":false},"axis":{"values":[22.6,22.8,23],"labels":false,"title":null}},"color":{"field":"v","type":"quantitative","scale":{"domain":[0,1],"range":["#ffffff","#000000"]},"legend":null}}},
{"data":{"name":"sc"},"transform":[{"flatten":["xC","yV"]}],"mark":{"type":"circle","size":30,"color":"#888888","opacity":0.4},"encoding":{"x":{"field":"xC","type":"quantitative"},"y":{"field":"yV","type":"quantitative"}}},
{"data":{"name":"ct"},"transform":[{"flatten":["o","xC","yV"]}],"mark":{"type":"line","interpolate":"cardinal-closed"},"encoding":{"x":{"field":"xC","type":"quantitative"},"y":{"field":"yV","type":"quantitative"},"detail":{"field":"c","type":"nominal"},"order":{"field":"o","type":"quantitative"}}},
{"data":{"name":"med"},"mark":"rule","encoding":{"x":{"field":"C","type":"quantitative"}}},
{"data":{"name":"med"},"mark":"rule","encoding":{"y":{"field":"V","type":"quantitative"}}},
{"data":{"name":"med"},"mark":{"type":"square","size":480,"color":"#4682b4"},"encoding":{"x":{"field":"C","type":"quantitative"},"y":{"field":"V","type":"quantitative"}}},
{"data":{"name":"med"},"mark":"circle","encoding":{"x":{"field":"C","type":"quantitative"},"y":{"field":"V","type":"quantitative"}}}]},
{"width":457,"height":457,"layer":[
{"data":{"name":"hm"},"transform":[{"flatten":["xK","v"]}],"mark":"square","encoding":{"x":{"field":"xK","type":"quantitative","scale":{"domain":[-3.28,9.3],"nice":false},"axis":{"values":[-2.5,0,2.5,5,7.5],"labels":false,"title":null}},"y":{"field":"yV","type":"quantitative","scale":{"domain":[22.424,23.17],"nice":false},"axis":{"values":[22.6,22.8,23],"labels":false,"title":null}},"color":{"field":"v","type":"quantitative","scale":{"domain":[0,1],"range":["#ffffff","#000000"]},"legend":null}}},
{"data":{"name":"sc"},"transform":[{"flatten":["xK","yV"]}],"mark":{"type":"circle","size":30,"color":"#888888","opacity":0.4},"encoding":{"x":{"field":"xK","type":"quantitative"},"y":{"field":"yV","type":"quantitative"}}},
{"data":{"name":"ct"},"transform":[{"flatten":["o","xK","yV"]}],"mark":{"type":"line","interpolate":"cardinal-closed"},"encoding":{"x":{"field":"xK","type":"quantitative"},"y":{"field":"yV","type":"quantitative"},"detail":{"field":"c","type":"nominal"},"order":{"field":"o","type":"quantitative"}}},
{"data":{"name":"med"},"mark":"rule","encoding":{"x":{"field":"K","type":"quantitative"}}},
{"data":{"name":"med"},"mark":"rule","encoding":{"y":{"field":"V","type":"quantitative"}}},
{"data":{"name":"med"},"mark":{"type":"square","size":480,"color":"#4682b4"},"encoding":{"x":{"field":"K","type":"quantitative"},"y":{"field":"V","type":"quantitative"}}},
{"data":{"name":"med"},"mark":"circle","encoding":{"x":{"field":"K","type":"quantitative"},"y":{"field":"V","type":"quantitative"}}}]},
{"width":457,"height":457,"layer":[
{"data":{"name":"hm"},"transform":[{"flatten":["xU","v"]}],"mark":"square","encoding":{"x":{"field":"xU","type":"quantitative","scale":{"domain":[9.635,10.427],"nice":false},"axis":{"values":[9.8,10,10.2,10.4],"labels":false,"title":null}},"y":{"field":"yV","type":"quantitative","scale":{"domain":[22.424,23.17],"nice":false},"axis":{"values":[22.6,22.8,23],"labels":false,"title":null}},"color":{"field":"v","type":"quantitative","scale":{"domain":[0,1],"range":["#ffffff","#000000"]},"legend":null}}},
{"data":{"name":"sc"},"transform":[{"flatten":["xU","yV"]}],"mark":{"type":"circle","size":30,"color":"#888888","opacity":0.4},"encoding":{"x":{"field":"xU","type":"quantitative"},"y":{"field":"yV","type":"quantitative"}}},
{"data":{"name":"ct"},"transform":[{"flatten":["o","xU","yV"]}],"mark":{"type":"line","interpolate":"cardinal-closed"},"encoding":{"x":{"field":"xU","type":"quantitative"},"y":{"field":"yV","type":"quantitative"},"detail":{"field":"c","type":"nominal"},"order":{"field":"o","type":"quantitative"}}},
{"data":{"name":"med"},"mark":"rule","encoding":{"x":{"field":"U","type":"quantitative"}}},
{"data":{"name":"med"},"mark":"rule","encoding":{"y":{"field":"V","type":"quantitative"}}},
{"data":{"name":"med"},"mark":{"type":"square","size":480,"color":"#4682b4"},"encoding":{"x":{"field":"U","type":"quantitative"},"y":{"field":"V","type":"quantitative"}}},
{"data":{"name":"med"},"mark":"circle","encoding":{"x":{"field":"U","type":"quantitative"},"y":{"field":"V","type":"quantitative"}}}]},
{"width":457,"height":457,"layer":[
{"data":{"name":"hist"},"mark":{"type":"line","interpolate":"step-after","strokeWidth":4},"encoding":{"x":{"field":"eV","type":"quantitative","scale":{"domain":[22.424,23.17],"nice":false},"axis":{"values":[22.6,22.8,23],"labels":false,"title":null}},"y":{"field":"nV","type":"quantitative","scale":{"domain":[0,1100],"nice":false},"axis":null}}},
{"data":{"name":"q"},"mark":{"type":"rule","strokeDash":[15,6]},"encoding":{"x":{"field":"V","type":"quantitative"}}},
{"data":{"name":"med"},"mark":"rule","encoding":{"x":{"field":"V","type":"quantitative"}}}]},
{"width":457,"height":457,"data":{"values":[]},"mark":"point","encoding":{},"view":{"stroke":null}},

{"width":457,"height":457,"layer":[
{"data":{"name":"hm"},"transform":[{"flatten":["xA","v"]}],"mark":"square","encoding":{"x":{"field":"xA","type":"quantitative","scale":{"domain":[8.22,21.98],"nice":false},"axis":{"values":[9,12,15,18,21],"format":".1f","title":"A (kms⁻¹kpc⁻¹)","titleX":228.5,"titleY":165}},"y":{"field":"yW","type":"quantitative","scale":{"domain":[7.494,8.155],"nice":false},"axis":{"values":[7.5499,7.7,7.8499,8,8.1499],"format":".1f","title":"W⊙ (kms⁻¹)","titleX":-168,"titleY":228.5}},"color":{"field":"v","type":"quantitative","scale":{"domain":[0,1],"range":["#ffffff","#000000"]},"legend":null}}},
{"data":{"name":"sc"},"transform":[{"flatten":["xA","yW"]}],"mark":{"type":"circle","size":30,"color":"#888888","opacity":0.4},"encoding":{"x":{"field":"xA","type":"quantitative"},"y":{"field":"yW","type":"quantitative"}}},
{"data":{"name":"ct"},"transform":[{"flatten":["o","xA","yW"]}],"mark":{"type":"line","interpolate":"cardinal-closed"},"encoding":{"x":{"field":"xA","type":"quantitative"},"y":{"field":"yW","type":"quantitative"},"detail":{"field":"c","type":"nominal"},"order":{"field":"o","type":"quantitative"}}},
{"data":{"name":"med"},"mark":"rule","encoding":{"x":{"field":"A","type":"quantitative"}}},
{"data":{"name":"med"},"mark":"rule","encoding":{"y":{"field":"W","type":"quantitative"}}},
{"data":{"name":"med"},"mark":{"type":"square","size":480,"color":"#4682b4"},"encoding":{"x":{"field":"A","type":"quantitative"},"y":{"field":"W","type":"quantitative"}}},
{"data":{"name":"med"},"mark":"circle","encoding":{"x":{"field":"A","type":"quantitative"},"y":{"field":"W","type":"quantitative"}}}]},
{"width":457,"height":457,"layer":[
{"data":{"name":"hm"},"transform":[{"flatten":["xB","v"]}],"mark":"square","encoding":{"x":{"field":"xB","type":"quantitative","scale":{"domain":[-22.66,-9.02],"nice":false},"axis":{"values":[-21,-18,-15,-12],"format":".1f","labelExpr":"replace(datum.label,'−','-')","title":"B (kms⁻¹kpc⁻¹)","titleX":228.5,"titleY":165}},"y":{"field":"yW","type":"quantitative","scale":{"domain":[7.494,8.155],"nice":false},"axis":{"values":[7.5499,7.7,7.8499,8,8.1499],"labels":false,"title":null}},"color":{"field":"v","type":"quantitative","scale":{"domain":[0,1],"range":["#ffffff","#000000"]},"legend":null}}},
{"data":{"name":"sc"},"transform":[{"flatten":["xB","yW"]}],"mark":{"type":"circle","size":30,"color":"#888888","opacity":0.4},"encoding":{"x":{"field":"xB","type":"quantitative"},"y":{"field":"yW","type":"quantitative"}}},
{"data":{"name":"ct"},"transform":[{"flatten":["o","xB","yW"]}],"mark":{"type":"line","interpolate":"cardinal-closed"},"encoding":{"x":{"field":"xB","type":"quantitative"},"y":{"field":"yW","type":"quantitative"},"detail":{"field":"c","type":"nominal"},"order":{"field":"o","type":"quantitative"}}},
{"data":{"name":"med"},"mark":"rule","encoding":{"x":{"field":"B","type":"quantitative"}}},
{"data":{"name":"med"},"mark":"rule","encoding":{"y":{"field":"W","type":"quantitative"}}},
{"data":{"name":"med"},"mark":{"type":"square","size":480,"color":"#4682b4"},"encoding":{"x":{"field":"B","type":"quantitative"},"y":{"field":"W","type":"quantitative"}}},
{"data":{"name":"med"},"mark":"circle","encoding":{"x":{"field":"B","type":"quantitative"},"y":{"field":"W","type":"quantitative"}}}]},
{"width":457,"height":457,"layer":[
{"data":{"name":"hm"},"transform":[{"flatten":["xC","v"]}],"mark":"square","encoding":{"x":{"field":"xC","type":"quantitative","scale":{"domain":[-10.63,2.68],"nice":false},"axis":{"values":[-9,-6,-3,0],"format":".1f","labelExpr":"replace(datum.label,'−','-')","title":"C (kms⁻¹kpc⁻¹)","titleX":228.5,"titleY":165}},"y":{"field":"yW","type":"quantitative","scale":{"domain":[7.494,8.155],"nice":false},"axis":{"values":[7.5499,7.7,7.8499,8,8.1499],"labels":false,"title":null}},"color":{"field":"v","type":"quantitative","scale":{"domain":[0,1],"range":["#ffffff","#000000"]},"legend":null}}},
{"data":{"name":"sc"},"transform":[{"flatten":["xC","yW"]}],"mark":{"type":"circle","size":30,"color":"#888888","opacity":0.4},"encoding":{"x":{"field":"xC","type":"quantitative"},"y":{"field":"yW","type":"quantitative"}}},
{"data":{"name":"ct"},"transform":[{"flatten":["o","xC","yW"]}],"mark":{"type":"line","interpolate":"cardinal-closed"},"encoding":{"x":{"field":"xC","type":"quantitative"},"y":{"field":"yW","type":"quantitative"},"detail":{"field":"c","type":"nominal"},"order":{"field":"o","type":"quantitative"}}},
{"data":{"name":"med"},"mark":"rule","encoding":{"x":{"field":"C","type":"quantitative"}}},
{"data":{"name":"med"},"mark":"rule","encoding":{"y":{"field":"W","type":"quantitative"}}},
{"data":{"name":"med"},"mark":{"type":"square","size":480,"color":"#4682b4"},"encoding":{"x":{"field":"C","type":"quantitative"},"y":{"field":"W","type":"quantitative"}}},
{"data":{"name":"med"},"mark":"circle","encoding":{"x":{"field":"C","type":"quantitative"},"y":{"field":"W","type":"quantitative"}}}]},
{"width":457,"height":457,"layer":[
{"data":{"name":"hm"},"transform":[{"flatten":["xK","v"]}],"mark":"square","encoding":{"x":{"field":"xK","type":"quantitative","scale":{"domain":[-3.28,9.3],"nice":false},"axis":{"values":[-2.5,0,2.5,5,7.5],"format":".1f","labelExpr":"replace(datum.label,'−','-')","title":"K (kms⁻¹kpc⁻¹)","titleX":228.5,"titleY":165}},"y":{"field":"yW","type":"quantitative","scale":{"domain":[7.494,8.155],"nice":false},"axis":{"values":[7.5499,7.7,7.8499,8,8.1499],"labels":false,"title":null}},"color":{"field":"v","type":"quantitative","scale":{"domain":[0,1],"range":["#ffffff","#000000"]},"legend":null}}},
{"data":{"name":"sc"},"transform":[{"flatten":["xK","yW"]}],"mark":{"type":"circle","size":30,"color":"#888888","opacity":0.4},"encoding":{"x":{"field":"xK","type":"quantitative"},"y":{"field":"yW","type":"quantitative"}}},
{"data":{"name":"ct"},"transform":[{"flatten":["o","xK","yW"]}],"mark":{"type":"line","interpolate":"cardinal-closed"},"encoding":{"x":{"field":"xK","type":"quantitative"},"y":{"field":"yW","type":"quantitative"},"detail":{"field":"c","type":"nominal"},"order":{"field":"o","type":"quantitative"}}},
{"data":{"name":"med"},"mark":"rule","encoding":{"x":{"field":"K","type":"quantitative"}}},
{"data":{"name":"med"},"mark":"rule","encoding":{"y":{"field":"W","type":"quantitative"}}},
{"data":{"name":"med"},"mark":{"type":"square","size":480,"color":"#4682b4"},"encoding":{"x":{"field":"K","type":"quantitative"},"y":{"field":"W","type":"quantitative"}}},
{"data":{"name":"med"},"mark":"circle","encoding":{"x":{"field":"K","type":"quantitative"},"y":{"field":"W","type":"quantitative"}}}]},
{"width":457,"height":457,"layer":[
{"data":{"name":"hm"},"transform":[{"flatten":["xU","v"]}],"mark":"square","encoding":{"x":{"field":"xU","type":"quantitative","scale":{"domain":[9.635,10.427],"nice":false},"axis":{"values":[9.8,10,10.2,10.4],"format":".1f","title":"U⊙ (kms⁻¹)","titleX":228.5,"titleY":165}},"y":{"field":"yW","type":"quantitative","scale":{"domain":[7.494,8.155],"nice":false},"axis":{"values":[7.5499,7.7,7.8499,8,8.1499],"labels":false,"title":null}},"color":{"field":"v","type":"quantitative","scale":{"domain":[0,1],"range":["#ffffff","#000000"]},"legend":null}}},
{"data":{"name":"sc"},"transform":[{"flatten":["xU","yW"]}],"mark":{"type":"circle","size":30,"color":"#888888","opacity":0.4},"encoding":{"x":{"field":"xU","type":"quantitative"},"y":{"field":"yW","type":"quantitative"}}},
{"data":{"name":"ct"},"transform":[{"flatten":["o","xU","yW"]}],"mark":{"type":"line","interpolate":"cardinal-closed"},"encoding":{"x":{"field":"xU","type":"quantitative"},"y":{"field":"yW","type":"quantitative"},"detail":{"field":"c","type":"nominal"},"order":{"field":"o","type":"quantitative"}}},
{"data":{"name":"med"},"mark":"rule","encoding":{"x":{"field":"U","type":"quantitative"}}},
{"data":{"name":"med"},"mark":"rule","encoding":{"y":{"field":"W","type":"quantitative"}}},
{"data":{"name":"med"},"mark":{"type":"square","size":480,"color":"#4682b4"},"encoding":{"x":{"field":"U","type":"quantitative"},"y":{"field":"W","type":"quantitative"}}},
{"data":{"name":"med"},"mark":"circle","encoding":{"x":{"field":"U","type":"quantitative"},"y":{"field":"W","type":"quantitative"}}}]},
{"width":457,"height":457,"layer":[
{"data":{"name":"hm"},"transform":[{"flatten":["xV","v"]}],"mark":"square","encoding":{"x":{"field":"xV","type":"quantitative","scale":{"domain":[22.424,23.17],"nice":false},"axis":{"values":[22.6,22.8,23],"format":".1f","title":"V⊙ (kms⁻¹)","titleX":228.5,"titleY":165}},"y":{"field":"yW","type":"quantitative","scale":{"domain":[7.494,8.155],"nice":false},"axis":{"values":[7.5499,7.7,7.8499,8,8.1499],"labels":false,"title":null}},"color":{"field":"v","type":"quantitative","scale":{"domain":[0,1],"range":["#ffffff","#000000"]},"legend":null}}},
{"data":{"name":"sc"},"transform":[{"flatten":["xV","yW"]}],"mark":{"type":"circle","size":30,"color":"#888888","opacity":0.4},"encoding":{"x":{"field":"xV","type":"quantitative"},"y":{"field":"yW","type":"quantitative"}}},
{"data":{"name":"ct"},"transform":[{"flatten":["o","xV","yW"]}],"mark":{"type":"line","interpolate":"cardinal-closed"},"encoding":{"x":{"field":"xV","type":"quantitative"},"y":{"field":"yW","type":"quantitative"},"detail":{"field":"c","type":"nominal"},"order":{"field":"o","type":"quantitative"}}},
{"data":{"name":"med"},"mark":"rule","encoding":{"x":{"field":"V","type":"quantitative"}}},
{"data":{"name":"med"},"mark":"rule","encoding":{"y":{"field":"W","type":"quantitative"}}},
{"data":{"name":"med"},"mark":{"type":"square","size":480,"color":"#4682b4"},"encoding":{"x":{"field":"V","type":"quantitative"},"y":{"field":"W","type":"quantitative"}}},
{"data":{"name":"med"},"mark":"circle","encoding":{"x":{"field":"V","type":"quantitative"},"y":{"field":"W","type":"quantitative"}}}]},
{"width":457,"height":457,"layer":[
{"data":{"name":"hist"},"mark":{"type":"line","interpolate":"step-after","strokeWidth":4},"encoding":{"x":{"field":"eW","type":"quantitative","scale":{"domain":[7.494,8.155],"nice":false},"axis":{"values":[7.5499,7.7,7.8499,8,8.1499],"format":".1f","title":"W⊙ (kms⁻¹)","titleX":228.5,"titleY":165}},"y":{"field":"nW","type":"quantitative","scale":{"domain":[0,1100],"nice":false},"axis":null}}},
{"data":{"name":"q"},"mark":{"type":"rule","strokeDash":[15,6]},"encoding":{"x":{"field":"W","type":"quantitative"}}},
{"data":{"name":"med"},"mark":"rule","encoding":{"x":{"field":"W","type":"quantitative"}}}]}
]
}
